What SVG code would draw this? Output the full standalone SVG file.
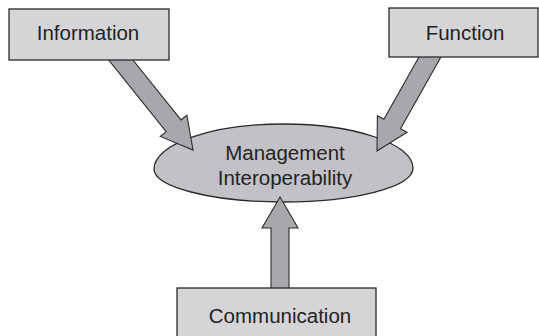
<svg xmlns="http://www.w3.org/2000/svg" width="539" height="336" viewBox="0 0 539 336">
<style>
.box{fill:#d5d5d7;stroke:#2a2a2a;stroke-width:1.3}
.ell{fill:#c2c2c6;stroke:#2a2a2a;stroke-width:1.3}
.arr{fill:#a8a8ac;stroke:#2a2a2a;stroke-width:1.1;stroke-linejoin:miter}
.lbl{font-family:"Liberation Sans",Arial,sans-serif;font-size:20.5px;fill:#222;text-anchor:middle}
</style>
<rect width="539" height="336" fill="#fff"/>
<g id="management">
<path class="ell" d="M154,169 C154,144 212,124 283,124 C355,124 413,144 413,168 C413,187 355,202 283,202 C212,202 154,187 154,169 Z"/>
<text class="lbl" x="285" y="160">Management</text>
<text class="lbl" x="285" y="185">Interoperability</text>
</g>
<g id="connectors">
<polygon class="arr" points="115.9,38.75 181,119.9 186.9,115.2 193,150 160.3,136.4 166.2,131.7 101.1,50.65"/>
<polygon class="arr" points="449.1,42.5 400.5,128.7 407,132.3 377,151 377.4,115.65 383.9,119.3 432.5,33.1"/>
<polygon class="arr" points="289,300 289,228 298,228 280,197 262,228 271,228 271,300"/>
</g>
<g id="information">
<rect class="box" x="9" y="9" width="160" height="51"/>
<text class="lbl" x="88" y="40">Information</text>
</g>
<g id="function">
<rect class="box" x="389" y="8" width="149" height="49"/>
<text class="lbl" x="465" y="40">Function</text>
</g>
<g id="communication">
<rect class="box" x="177" y="288" width="199" height="60"/>
<text class="lbl" x="280" y="323">Communication</text>
</g>
</svg>
